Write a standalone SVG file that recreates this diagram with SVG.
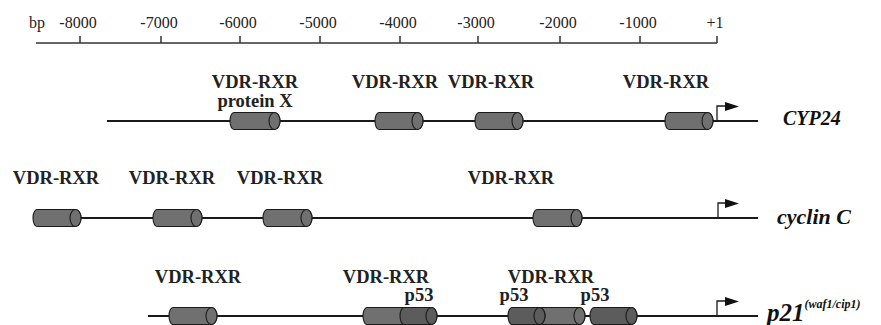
<svg xmlns="http://www.w3.org/2000/svg" width="881" height="325" viewBox="0 0 881 325">
<style>
.ax{font-family:"Liberation Serif","Times New Roman",serif;font-size:16px;fill:#222;text-anchor:middle}
.lb{font-family:"Liberation Serif","Times New Roman",serif;font-size:18.5px;font-weight:bold;fill:#222;text-anchor:middle}
.gn{font-family:"Liberation Serif","Times New Roman",serif;font-size:20px;font-weight:bold;font-style:italic;fill:#111}
.axl{stroke:#333;stroke-width:1.5;fill:none}
.dna{stroke:#1a1a1a;stroke-width:2.2;fill:none}
.cyl{fill:#707070;stroke:#1a1a1a;stroke-width:1.1}
.cyd{fill:#5c5c5c;stroke:#1a1a1a;stroke-width:1.1}
.tss{stroke:#1a1a1a;stroke-width:1.3;fill:none}
.tri{fill:#111}
</style>
<g id="axis">
<line class="axl" x1="36" y1="43" x2="717" y2="43"/>
<path class="axl" d="M80 36V43M161 36V43M240 36V43M320 36V43M400 36V43M478 36V43M560 36V43M640 36V43M717 36V43"/>
<text class="ax" x="37" y="28">bp</text>
<text class="ax" x="78" y="28">-8000</text>
<text class="ax" x="159" y="28">-7000</text>
<text class="ax" x="238" y="28">-6000</text>
<text class="ax" x="318" y="28">-5000</text>
<text class="ax" x="398" y="28">-4000</text>
<text class="ax" x="476" y="28">-3000</text>
<text class="ax" x="558" y="28">-2000</text>
<text class="ax" x="638" y="28">-1000</text>
<text class="ax" x="715" y="28">+1</text>
</g>
<g id="connectors">
<line class="dna" x1="107" y1="121" x2="758" y2="121"/>
<line class="dna" x1="40" y1="218" x2="758" y2="218"/>
<line class="dna" x1="148" y1="316" x2="758" y2="316"/>
</g>
<g id="cyp24">
<g id="cyp24-site1"><path class="cyl" d="M234 112.5H274.5A5.5 8.5 0 0 1 274.5 129.5H234A4 8.5 0 0 1 234 112.5Z"/><ellipse class="cyl" cx="274.5" cy="121" rx="5.5" ry="8.5"/></g>
<g id="cyp24-site2"><path class="cyl" d="M379 112.5H417.5A5.5 8.5 0 0 1 417.5 129.5H379A4 8.5 0 0 1 379 112.5Z"/><ellipse class="cyl" cx="417.5" cy="121" rx="5.5" ry="8.5"/></g>
<g id="cyp24-site3"><path class="cyl" d="M479 112.5H517.5A5.5 8.5 0 0 1 517.5 129.5H479A4 8.5 0 0 1 479 112.5Z"/><ellipse class="cyl" cx="517.5" cy="121" rx="5.5" ry="8.5"/></g>
<g id="cyp24-site4"><path class="cyl" d="M669 112.5H707.5A5.5 8.5 0 0 1 707.5 129.5H669A4 8.5 0 0 1 669 112.5Z"/><ellipse class="cyl" cx="707.5" cy="121" rx="5.5" ry="8.5"/></g>
<g id="cyp24-tss"><path class="tss" d="M717 121V106H726"/><polygon class="tri" points="725,102 739,106.5 725,111"/></g>
<text class="lb" x="255" y="88">VDR-RXR</text>
<text class="lb" x="255" y="107">protein X</text>
<text class="lb" x="395" y="88">VDR-RXR</text>
<text class="lb" x="491" y="88">VDR-RXR</text>
<text class="lb" x="666" y="88">VDR-RXR</text>
<text class="gn" x="783" y="125">CYP24</text>
</g>
<g id="cyclinC">
<g id="cycC-site1"><path class="cyl" d="M37 209.5H75.5A5.5 8.5 0 0 1 75.5 226.5H37A4 8.5 0 0 1 37 209.5Z"/><ellipse class="cyl" cx="75.5" cy="218" rx="5.5" ry="8.5"/></g>
<g id="cycC-site2"><path class="cyl" d="M157 209.5H196.5A5.5 8.5 0 0 1 196.5 226.5H157A4 8.5 0 0 1 157 209.5Z"/><ellipse class="cyl" cx="196.5" cy="218" rx="5.5" ry="8.5"/></g>
<g id="cycC-site3"><path class="cyl" d="M267 209.5H306.5A5.5 8.5 0 0 1 306.5 226.5H267A4 8.5 0 0 1 267 209.5Z"/><ellipse class="cyl" cx="306.5" cy="218" rx="5.5" ry="8.5"/></g>
<g id="cycC-site4"><path class="cyl" d="M537 209.5H576.5A5.5 8.5 0 0 1 576.5 226.5H537A4 8.5 0 0 1 537 209.5Z"/><ellipse class="cyl" cx="576.5" cy="218" rx="5.5" ry="8.5"/></g>
<g id="cycC-tss"><path class="tss" d="M718 218V203H726"/><polygon class="tri" points="725,199 739,203.5 725,208"/></g>
<text class="lb" x="56" y="184">VDR-RXR</text>
<text class="lb" x="172" y="184">VDR-RXR</text>
<text class="lb" x="280" y="184">VDR-RXR</text>
<text class="lb" x="511" y="184">VDR-RXR</text>
<text class="gn" x="777" y="224" style="font-size:22px">cyclin C</text>
</g>
<g id="p21">
<g id="p21-site1"><path class="cyl" d="M173 307.5H211.5A5.5 8.5 0 0 1 211.5 324.5H173A4 8.5 0 0 1 173 307.5Z"/><ellipse class="cyl" cx="211.5" cy="316" rx="5.5" ry="8.5"/></g>
<g id="p21-site2"><path class="cyl" d="M367 307.5H406.5A5.5 8.5 0 0 1 406.5 324.5H367A4 8.5 0 0 1 367 307.5Z"/><ellipse class="cyl" cx="406.5" cy="316" rx="5.5" ry="8.5"/></g>
<g id="p21-site3"><path class="cyd" d="M404 307.5H431.5A5.5 8.5 0 0 1 431.5 324.5H404A4 8.5 0 0 1 404 307.5Z"/><ellipse class="cyd" cx="431.5" cy="316" rx="5.5" ry="8.5"/></g>
<g id="p21-site4"><path class="cyl" d="M539 307.5H579.5A5.5 8.5 0 0 1 579.5 324.5H539A4 8.5 0 0 1 539 307.5Z"/><ellipse class="cyl" cx="579.5" cy="316" rx="5.5" ry="8.5"/></g>
<g id="p21-site5"><path class="cyd" d="M512 307.5H539.5A5.5 8.5 0 0 1 539.5 324.5H512A4 8.5 0 0 1 512 307.5Z"/><ellipse class="cyd" cx="539.5" cy="316" rx="5.5" ry="8.5"/></g>
<g id="p21-site6"><path class="cyd" d="M594 307.5H631.5A5.5 8.5 0 0 1 631.5 324.5H594A4 8.5 0 0 1 594 307.5Z"/><ellipse class="cyd" cx="631.5" cy="316" rx="5.5" ry="8.5"/></g>
<g id="p21-tss"><path class="tss" d="M717 316V301H726"/><polygon class="tri" points="725,297 739,301.5 725,306"/></g>
<text class="lb" x="198" y="283">VDR-RXR</text>
<text class="lb" x="386" y="283">VDR-RXR</text>
<text class="lb" x="419" y="301">p53</text>
<text class="lb" x="551" y="283">VDR-RXR</text>
<text class="lb" x="514" y="301">p53</text>
<text class="lb" x="595" y="301">p53</text>
<text class="gn" x="767" y="321"><tspan font-size="25">p21</tspan><tspan font-size="12" dy="-13">(waf1/cip1)</tspan></text>
</g>
</svg>
